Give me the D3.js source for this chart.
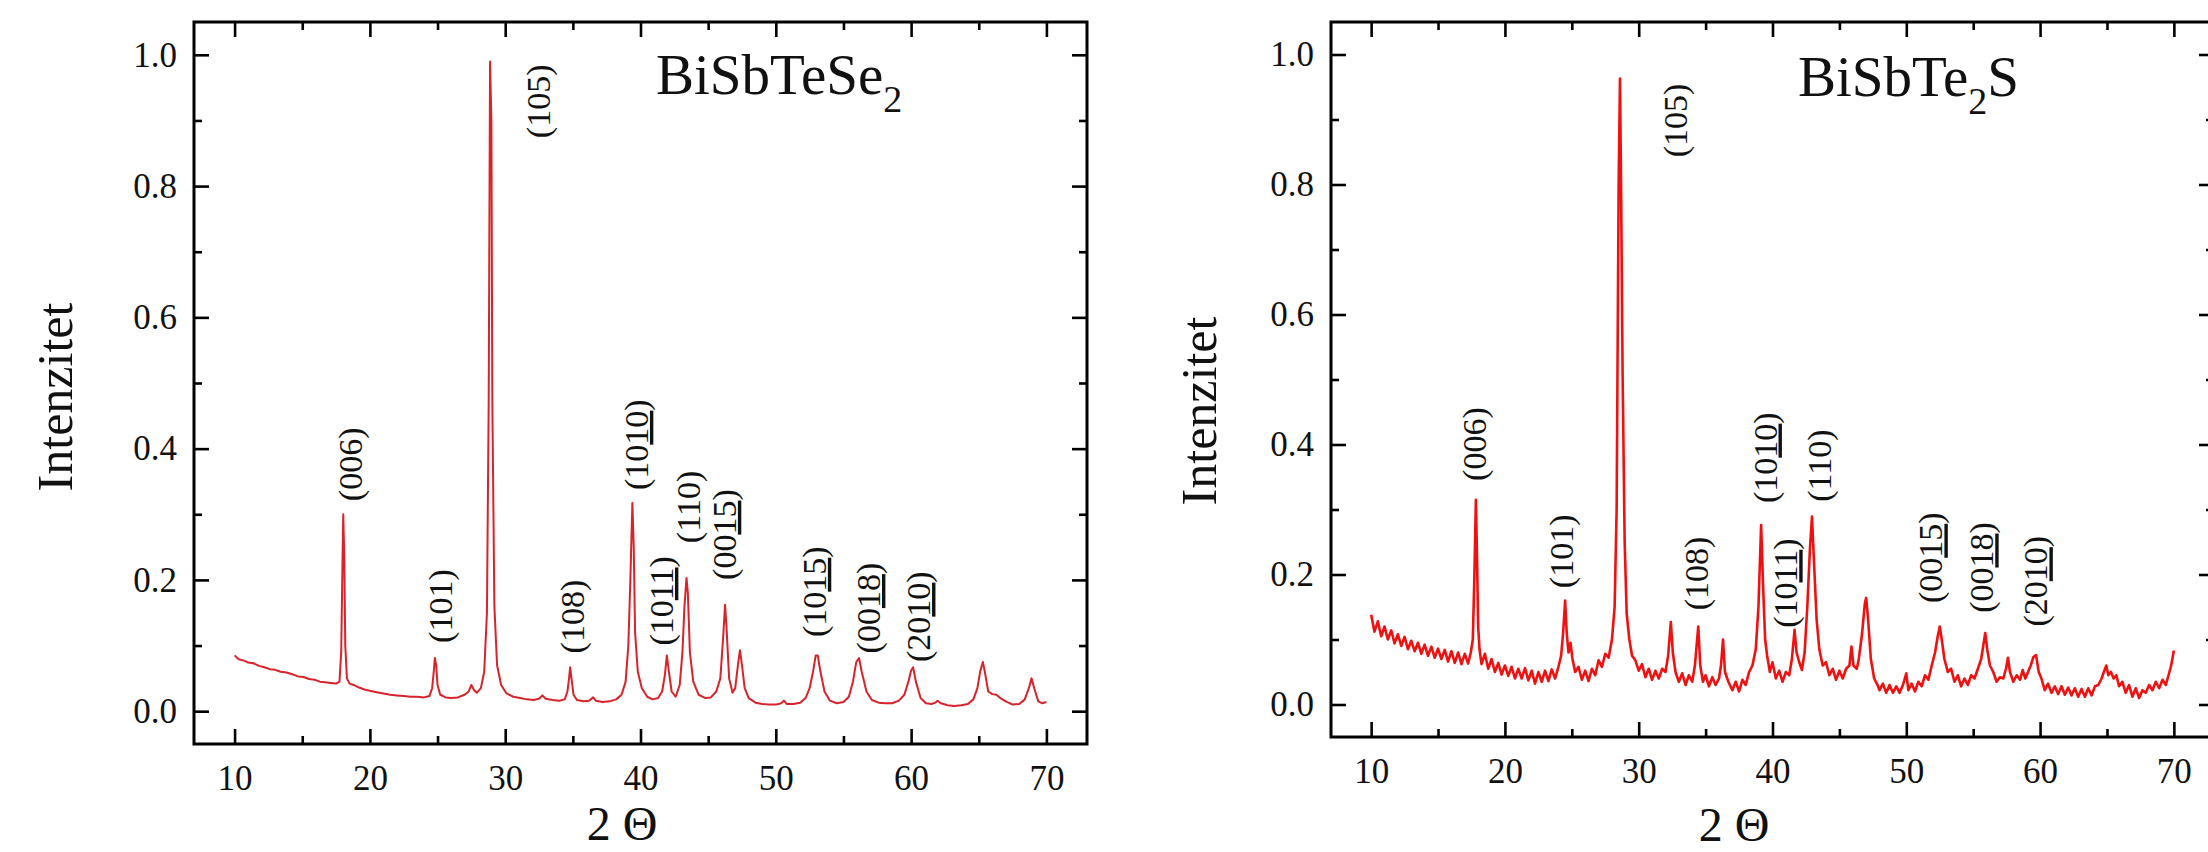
<!DOCTYPE html>
<html>
<head>
<meta charset="utf-8">
<script src="https://cdn.jsdelivr.net/npm/d3@7"></script>
<style>
  html, body { margin: 0; padding: 0; background: #fff; }
  svg { display: block; font-family: "Liberation Serif", "Times New Roman", serif; }
</style>
</head>
<body>
<svg id="chart" width="2208" height="852"></svg>
<script>
// data (2θ in degrees, normalised intensity)
const xMajor = [10, 20, 30, 40, 50, 60, 70];
const xMinor = [15, 25, 35, 45, 55, 65];
const yMajor = [0, 0.2, 0.4, 0.6, 0.8, 1.0];
const yMinor = [0.1, 0.3, 0.5, 0.7, 0.9];

const seTrace = [
  [10.0,0.085],[10.3,0.079],[10.7,0.077],[11.0,0.074],[11.4,0.073],[11.8,0.069],[12.2,0.067],[12.6,0.064],
  [13.0,0.063],[13.4,0.060],[13.85,0.059],[14.3,0.056],[14.7,0.053],[15.1,0.052],[15.5,0.049],[15.9,0.048],
  [16.3,0.045],[16.7,0.044],[17.1,0.043],[17.5,0.042],[17.75,0.045],[17.88,0.09],[17.97,0.22],[18.03,0.30],
  [18.1,0.24],[18.18,0.10],[18.3,0.05],[18.5,0.042],[18.8,0.040],[19.2,0.036],[19.6,0.033],[20.0,0.031],
  [20.5,0.029],[21.0,0.027],[21.5,0.025],[22.0,0.024],[22.5,0.023],[23.0,0.022],[23.5,0.022],[24.0,0.021],
  [24.4,0.023],[24.6,0.035],[24.72,0.06],[24.8,0.081],[24.9,0.07],[25.0,0.04],[25.2,0.025],[25.6,0.021],
  [26.0,0.020],[26.5,0.021],[27.0,0.025],[27.3,0.030],[27.5,0.040],[27.7,0.032],[27.9,0.028],[28.2,0.035],
  [28.45,0.06],[28.65,0.15],[28.78,0.47],[28.88,0.99],[28.98,0.90],[29.05,0.47],[29.2,0.16],[29.4,0.07],
  [29.7,0.04],[30.1,0.027],[30.6,0.022],[31.1,0.020],[31.6,0.018],[32.1,0.017],[32.5,0.019],[32.75,0.024],
  [33.0,0.019],[33.5,0.017],[34.0,0.016],[34.4,0.018],[34.6,0.03],[34.72,0.05],[34.8,0.067],[34.9,0.05],
  [35.05,0.025],[35.3,0.017],[35.8,0.015],[36.2,0.016],[36.5,0.021],[36.7,0.016],[37.2,0.014],[37.7,0.015],
  [38.2,0.018],[38.6,0.025],[38.9,0.045],[39.1,0.10],[39.25,0.20],[39.4,0.317],[39.5,0.25],[39.6,0.12],
  [39.8,0.06],[40.1,0.035],[40.5,0.022],[40.9,0.018],[41.3,0.02],[41.6,0.03],[41.8,0.055],[41.95,0.085],
  [42.1,0.06],[42.3,0.03],[42.6,0.022],[42.9,0.04],[43.1,0.09],[43.25,0.16],[43.4,0.203],[43.5,0.18],
  [43.65,0.09],[43.9,0.045],[44.3,0.025],[44.8,0.02],[45.2,0.021],[45.6,0.03],[45.9,0.05],[46.1,0.11],
  [46.25,0.162],[46.35,0.13],[46.55,0.05],[46.8,0.028],[47.0,0.035],[47.2,0.07],[47.35,0.093],[47.5,0.07],
  [47.7,0.035],[48.0,0.02],[48.5,0.013],[49.0,0.011],[49.5,0.010],[50.0,0.010],[50.4,0.012],[50.6,0.016],
  [50.8,0.011],[51.3,0.011],[51.8,0.013],[52.2,0.02],[52.5,0.035],[52.75,0.06],[52.95,0.085],[53.1,0.085],
  [53.3,0.06],[53.6,0.03],[54.0,0.016],[54.5,0.012],[55.0,0.014],[55.4,0.022],[55.7,0.045],[55.95,0.075],
  [56.15,0.081],[56.35,0.06],[56.7,0.03],[57.1,0.017],[57.6,0.013],[58.1,0.012],[58.6,0.012],[59.1,0.016],
  [59.5,0.025],[59.8,0.045],[60.0,0.062],[60.15,0.067],[60.35,0.045],[60.7,0.02],[61.1,0.012],[61.5,0.011],
  [61.8,0.013],[61.95,0.016],[62.2,0.012],[62.7,0.009],[63.2,0.008],[63.7,0.009],[64.2,0.011],[64.6,0.018],
  [64.9,0.035],[65.1,0.06],[65.3,0.075],[65.45,0.06],[65.7,0.03],[66.0,0.026],[66.3,0.025],[66.6,0.02],
  [67.0,0.015],[67.5,0.01],[68.0,0.011],[68.4,0.018],[68.7,0.035],[68.9,0.05],[69.1,0.035],[69.4,0.015],
  [69.7,0.012],[70.0,0.014]
];

const sTrace = [
  [10.0,0.138],[10.25,0.112],[10.5,0.128],[10.75,0.105],[11.0,0.120],[11.25,0.100],[11.5,0.114],[11.75,0.094],
  [12.0,0.108],[12.25,0.090],[12.5,0.104],[12.75,0.085],[13.0,0.098],[13.25,0.082],[13.5,0.095],[13.75,0.078],
  [14.0,0.092],[14.25,0.075],[14.5,0.089],[14.75,0.072],[15.0,0.086],[15.25,0.070],[15.5,0.084],[15.75,0.066],
  [16.0,0.082],[16.25,0.064],[16.5,0.080],[16.75,0.062],[17.0,0.078],[17.25,0.063],[17.45,0.080],[17.6,0.10],
  [17.72,0.20],[17.83,0.315],[17.92,0.22],[18.0,0.12],[18.1,0.085],[18.25,0.062],[18.5,0.078],[18.75,0.055],
  [19.0,0.070],[19.25,0.050],[19.5,0.064],[19.75,0.046],[20.0,0.060],[20.25,0.044],[20.5,0.058],[20.75,0.040],
  [21.0,0.055],[21.25,0.040],[21.5,0.056],[21.75,0.037],[22.0,0.052],[22.25,0.032],[22.5,0.050],[22.75,0.035],
  [23.0,0.052],[23.25,0.036],[23.5,0.054],[23.75,0.040],[24.0,0.058],[24.2,0.075],[24.35,0.11],[24.5,0.16],
  [24.62,0.11],[24.75,0.08],[24.9,0.095],[25.05,0.07],[25.25,0.05],[25.5,0.058],[25.75,0.038],[26.0,0.052],
  [26.25,0.036],[26.5,0.055],[26.75,0.045],[27.0,0.068],[27.25,0.058],[27.5,0.078],[27.75,0.072],[28.0,0.10],
  [28.2,0.15],[28.35,0.30],[28.5,0.80],[28.6,0.963],[28.68,0.80],[28.8,0.50],[28.95,0.25],[29.1,0.14],
  [29.3,0.10],[29.5,0.075],[29.75,0.068],[30.0,0.052],[30.25,0.062],[30.5,0.042],[30.75,0.055],[31.0,0.038],
  [31.25,0.052],[31.5,0.040],[31.75,0.055],[32.0,0.05],[32.2,0.075],[32.4,0.127],[32.55,0.08],[32.75,0.05],
  [33.0,0.035],[33.25,0.048],[33.5,0.030],[33.75,0.045],[34.0,0.035],[34.2,0.06],[34.45,0.12],[34.6,0.06],
  [34.8,0.035],[35.0,0.045],[35.25,0.028],[35.5,0.042],[35.75,0.030],[36.0,0.04],[36.15,0.06],[36.3,0.10],
  [36.45,0.05],[36.7,0.035],[37.0,0.022],[37.25,0.035],[37.5,0.020],[37.75,0.038],[38.0,0.03],[38.25,0.05],
  [38.5,0.06],[38.75,0.085],[38.95,0.15],[39.15,0.276],[39.3,0.18],[39.45,0.10],[39.6,0.075],[39.8,0.05],
  [40.0,0.065],[40.25,0.04],[40.5,0.052],[40.75,0.035],[41.0,0.05],[41.25,0.045],[41.45,0.07],[41.65,0.115],
  [41.8,0.08],[42.0,0.065],[42.2,0.053],[42.4,0.08],[42.6,0.15],[42.8,0.24],[42.95,0.289],[43.1,0.22],
  [43.3,0.13],[43.5,0.085],[43.75,0.06],[44.0,0.065],[44.25,0.045],[44.5,0.055],[44.75,0.038],[45.0,0.052],
  [45.25,0.04],[45.5,0.055],[45.75,0.06],[45.9,0.089],[46.05,0.06],[46.3,0.055],[46.45,0.07],[46.7,0.11],
  [46.9,0.155],[47.0,0.164],[47.15,0.13],[47.35,0.07],[47.6,0.04],[47.85,0.03],[48.0,0.022],[48.25,0.032],
  [48.5,0.018],[48.75,0.030],[49.0,0.018],[49.25,0.028],[49.5,0.018],[49.75,0.030],[50.0,0.048],[50.15,0.022],
  [50.4,0.032],[50.65,0.020],[50.9,0.035],[51.15,0.028],[51.4,0.045],[51.65,0.038],[51.9,0.06],[52.15,0.08],
  [52.35,0.105],[52.5,0.12],[52.65,0.10],[52.85,0.07],[53.1,0.05],[53.35,0.055],[53.6,0.035],[53.85,0.045],
  [54.1,0.028],[54.35,0.040],[54.6,0.030],[54.85,0.045],[55.1,0.040],[55.35,0.055],[55.6,0.07],[55.75,0.09],
  [55.9,0.11],[56.05,0.085],[56.25,0.06],[56.5,0.05],[56.75,0.035],[57.0,0.042],[57.25,0.04],[57.45,0.055],
  [57.6,0.072],[57.75,0.05],[58.0,0.035],[58.25,0.045],[58.5,0.038],[58.7,0.053],[58.9,0.04],[59.1,0.05],
  [59.3,0.06],[59.5,0.073],[59.7,0.076],[59.9,0.05],[60.1,0.04],[60.35,0.022],[60.6,0.032],[60.85,0.018],
  [61.1,0.028],[61.35,0.016],[61.6,0.028],[61.85,0.015],[62.1,0.026],[62.35,0.014],[62.6,0.025],[62.85,0.012],
  [63.1,0.024],[63.35,0.012],[63.6,0.025],[63.85,0.014],[64.1,0.028],[64.35,0.03],[64.6,0.04],[64.8,0.052],
  [64.95,0.06],[65.1,0.045],[65.3,0.05],[65.5,0.04],[65.7,0.045],[65.9,0.028],[66.15,0.035],[66.4,0.018],
  [66.65,0.030],[66.9,0.012],[67.15,0.025],[67.4,0.010],[67.65,0.022],[67.9,0.018],[68.15,0.030],[68.4,0.022],
  [68.65,0.035],[68.9,0.025],[69.15,0.038],[69.4,0.03],[69.6,0.045],[69.8,0.06],[70.0,0.083]
];

// peak labels: hkl text, 2θ of the text baseline, intensity where the text starts
const seHkl = ["(006)", "(101)", "(105)", "(108)", "(1010)", "(1011)", "(110)", "(0015)", "(1015)", "(0018)", "(2010)"];
const seHklX = [19.4, 26.1, 33.3, 35.8, 40.55, 42.4, 44.4, 47.05, 53.7, 57.7, 61.4];
const seHklY = [0.32, 0.104, 0.873, 0.088, 0.337, 0.10, 0.256, 0.20, 0.113, 0.088, 0.075];

const sHkl = ["(006)", "(101)", "(105)", "(108)", "(1010)", "(1011)", "(110)", "(0015)", "(0018)", "(2010)"];
const sHklX = [18.6, 25.1, 33.6, 35.2, 40.3, 41.85, 44.4, 52.7, 56.5, 60.55];
const sHklY = [0.344, 0.179, 0.842, 0.145, 0.31, 0.118, 0.312, 0.156, 0.141, 0.12];

const svg = d3.select("#chart");
const SERIF = '"Liberation Serif", "Times New Roman", serif';

function drawPanel(cfg) {
  const x = d3.scaleLinear().domain([7, 73]).range(cfg.xr);
  const y = d3.scaleLinear().domain([-0.05, 1.05]).range(cfg.yr);
  const g = svg.append("g");
  const [x0, x1] = cfg.xr;
  const [y0, y1] = cfg.yr;

  //ticks on all four sides, pointing inward
  const sides = [
    { make: () => d3.axisBottom(x), major: xMajor, minor: xMinor, tr: `translate(0,${y0})`, pad: 21, fmt: d3.format("d") },
    { make: () => d3.axisTop(x), major: xMajor, minor: xMinor, tr: `translate(0,${y1})`, pad: 0, fmt: () => "" },
    { make: () => d3.axisLeft(y), major: yMajor, minor: yMinor, tr: `translate(${x0},0)`, pad: 17, fmt: d3.format(".1f") },
    { make: () => d3.axisRight(y), major: yMajor, minor: yMinor, tr: `translate(${x1},0)`, pad: 0, fmt: () => "" }
  ];
  for (const s of sides) {
    const a = g.append("g").attr("transform", s.tr)
      .call(s.make().tickValues(s.major).tickSize(-15).tickSizeOuter(0).tickPadding(s.pad).tickFormat(s.fmt));
    const m = g.append("g").attr("transform", s.tr)
      .call(s.make().tickValues(s.minor).tickSize(-8).tickSizeOuter(0).tickFormat(() => ""));
    for (const sel of [a, m]) {
      sel.attr("font-family", null).attr("font-size", null);
      sel.select(".domain").remove();
      sel.selectAll("line").attr("stroke", "#000").attr("stroke-width", 2.6);
    }
    a.selectAll("text")
      .style("font-size", "35px")
      .style("font-family", SERIF)
      .attr("fill", "#111");
  }

  g.append("rect")
    .attr("x", x0).attr("y", y1)
    .attr("width", x1 - x0).attr("height", y0 - y1)
    .attr("fill", "none").attr("stroke", "#000").attr("stroke-width", 3);

  //pattern
  const line = d3.line().x((d) => x(d[0])).y((d) => y(d[1]));
  g.append("path")
    .datum(cfg.trace)
    .attr("d", line)
    .attr("fill", "none")
    .attr("stroke", cfg.color)
    .attr("stroke-width", cfg.lw)
    .attr("stroke-linejoin", "round");

  //hkl labels, last two digits underlined for 4-digit indices
  cfg.hkl.forEach((lab, i) => {
    const t = g.append("text")
      .attr("transform", `translate(${x(cfg.hklX[i])},${y(cfg.hklY[i])}) rotate(-90)`)
      .style("font-size", "34px")
      .attr("fill", "#111");
    const inner = lab.slice(1, -1);
    if (inner.length === 4) {
      t.append("tspan").text("(" + inner.slice(0, 2));
      t.append("tspan").attr("text-decoration", "underline").text(inner.slice(2));
      t.append("tspan").text(")");
    } else {
      t.text(lab);
    }
  });

  //title with subscript
  const title = g.append("text")
    .attr("x", cfg.titleX).attr("y", cfg.titleY)
    .style("font-size", "57px").attr("fill", "#111");
  cfg.title.forEach((p) => {
    if (p.sub) title.append("tspan").attr("dy", 18).style("font-size", "38px").text(p.t);
    else title.append("tspan").attr("dy", p.back ? -18 : 0).text(p.t);
  });

  //axis titles
  g.append("text")
    .attr("transform", `translate(${cfg.yTitleX},${cfg.yTitleY}) rotate(-90)`)
    .attr("text-anchor", "middle")
    .style("font-size", "50px").attr("fill", "#111")
    .text("Intenzitet");

  g.append("text")
    .attr("x", cfg.xTitleX).attr("y", cfg.xTitleY)
    .attr("text-anchor", "middle")
    .style("font-size", "48px").attr("fill", "#111")
    .text("2 \u0398");
}

drawPanel({
  xr: [194, 1087], yr: [744, 22],
  trace: seTrace, color: "#d8232a", lw: 2,
  hkl: seHkl, hklX: seHklX, hklY: seHklY,
  title: [{ t: "BiSbTeSe" }, { t: "2", sub: true }],
  titleX: 656, titleY: 94,
  yTitleX: 72, yTitleY: 397, xTitleX: 622, xTitleY: 840
});

drawPanel({
  xr: [1331, 2214], yr: [737, 22],
  trace: sTrace, color: "#f01010", lw: 2.6,
  hkl: sHkl, hklX: sHklX, hklY: sHklY,
  title: [{ t: "BiSbTe" }, { t: "2", sub: true }, { t: "S", back: true }],
  titleX: 1798, titleY: 96,
  yTitleX: 1216, yTitleY: 411, xTitleX: 1734, xTitleY: 841
});
</script>
</body>
</html>
